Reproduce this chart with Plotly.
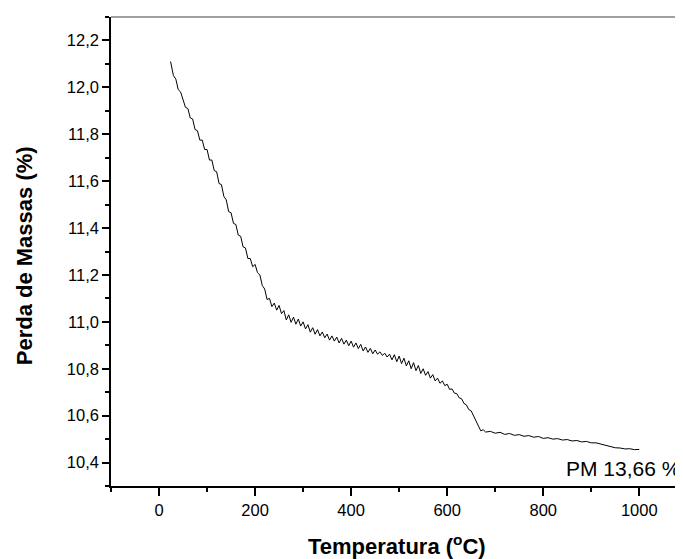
import plotly.graph_objects as go

# Temperatura (C) e perda de massa (%)
temp = [24, 26,
        30, 35, 40, 45, 50, 55, 60, 65, 70, 75, 80, 85, 90, 95, 100,
        105, 110, 115, 120, 125, 130, 135, 140, 145, 150, 155, 160, 165, 170, 175, 180,
        185, 190, 195, 200, 205, 210, 215, 220, 225, 230, 235, 240, 245, 250, 255, 260,
        265, 270, 275, 280, 285, 290, 295, 300, 305, 310, 315, 320, 325, 330, 335, 340,
        345, 350, 355, 360, 365, 370, 375, 380, 385, 390, 395, 400, 405, 410, 415, 420,
        425, 430, 435, 440, 445, 450, 455, 460, 465, 470, 475, 480, 485, 490, 495, 500,
        505, 510, 515, 520, 525, 530, 535, 540, 545, 550, 555, 560, 565, 570, 575, 580,
        585, 590, 595, 600, 605, 610, 615, 620, 625, 630, 635, 640, 645, 650, 655, 660,
        665, 670, 675, 680,
        690, 700, 710, 720, 730, 740, 750, 760, 770, 780, 790, 800, 810, 820, 830, 840,
        850, 860, 870, 880, 890, 900, 910, 920, 930, 940, 950, 960, 970, 980, 990, 1000]

massa = [12.11, 12.09,
         12.05, 12.035, 11.99, 11.98, 11.95, 11.915, 11.91, 11.87, 11.865, 11.82, 11.815, 11.775, 11.775, 11.735, 11.735,
         11.69, 11.69, 11.645, 11.64, 11.59, 11.585, 11.535, 11.52, 11.47, 11.465, 11.42, 11.415, 11.37, 11.365, 11.32, 11.315,
         11.27, 11.27, 11.235, 11.245, 11.21, 11.2, 11.155, 11.14, 11.095, 11.1, 11.065, 11.08, 11.05, 11.07, 11.035, 11.048,
         11.008, 11.03, 10.998, 11.02, 10.99, 11.012, 10.982, 11.0, 10.97, 10.988, 10.956, 10.975, 10.947, 10.967, 10.94, 10.957,
         10.932, 10.948, 10.922, 10.94, 10.918, 10.935, 10.91, 10.93, 10.905, 10.922, 10.898, 10.918, 10.892, 10.91, 10.886, 10.904,
         10.876, 10.893, 10.87, 10.887, 10.864, 10.88, 10.862, 10.872, 10.857, 10.866, 10.850, 10.862, 10.838, 10.86, 10.83, 10.854,
         10.822, 10.845, 10.812, 10.834, 10.8, 10.826, 10.792, 10.814, 10.78, 10.8, 10.772, 10.788, 10.76, 10.775, 10.748, 10.76,
         10.738, 10.748, 10.728, 10.734, 10.712, 10.714, 10.696, 10.694, 10.676, 10.672, 10.652, 10.646, 10.626, 10.62, 10.598, 10.58,
         10.552, 10.535, 10.54, 10.53,
         10.533, 10.525, 10.529, 10.52, 10.524, 10.516, 10.519, 10.512, 10.515, 10.508, 10.511, 10.503, 10.506, 10.500, 10.502, 10.496,
         10.498, 10.492, 10.494, 10.488, 10.49, 10.484, 10.484, 10.478, 10.475, 10.468, 10.463, 10.462, 10.458, 10.459, 10.455, 10.456]

xticks = [0, 200, 400, 600, 800, 1000]
yticks = [10.4, 10.6, 10.8, 11.0, 11.2, 11.4, 11.6, 11.8, 12.0, 12.2]

fonte = 'Liberation Sans, Arial, sans-serif'

fig = go.Figure()
fig.add_trace(go.Scatter(x=temp, y=massa, mode='lines',
                         line=dict(color='black', width=1), showlegend=False))

# a pagina tem 8px de margem no body, descontado aqui
fig.update_layout(width=675, height=551,
                  margin=dict(l=103, r=0, t=9, b=73),
                  plot_bgcolor='white', paper_bgcolor='white',
                  separators=',.',
                  font=dict(family=fonte, color='black'))

fig.update_xaxes(range=[-100, 1091], tickvals=xticks, ticks='outside', ticklen=8, tickwidth=1.5,
                 tickcolor='black', showline=True, linecolor='black', linewidth=1.5,
                 showgrid=False, zeroline=False, tickfont=dict(size=16.5), automargin=False,
                 minor=dict(ticks='outside', ticklen=4, tickwidth=1.5, tickcolor='black',
                            tick0=-100, dtick=200, showgrid=False))

fig.update_yaxes(range=[10.3, 12.3], tickvals=yticks, tickformat='.1f', ticks='outside', ticklen=7,
                 tickwidth=1.5, tickcolor='black', showline=True, linecolor='black', linewidth=1.5,
                 showgrid=False, zeroline=False, tickfont=dict(size=16.5), automargin=False,
                 minor=dict(ticks='outside', ticklen=4, tickwidth=1.5, tickcolor='black',
                            tick0=10.3, dtick=0.2, showgrid=False))

# linha superior do quadro
fig.add_shape(type='line', xref='paper', yref='paper', x0=0, x1=1, y0=1, y1=1,
              line=dict(color='#808080', width=1.5))

# titulos dos eixos
fig.add_annotation(text='<b>Temperatura (<sup>o</sup>C)</b>', xref='paper', x=0.5, xanchor='center',
                   yref='paper', y=-0.126, yanchor='middle', showarrow=False,
                   font=dict(size=22, family=fonte, color='black'))
fig.add_annotation(text='<b>Perda de Massas (%)</b>', xref='paper', x=-0.152, xanchor='center',
                   yref='paper', y=0.49, yanchor='middle', textangle=-90, showarrow=False,
                   font=dict(size=22, family=fonte, color='black'))

fig.add_annotation(text='PM 13,66 %', xref='paper', x=0.998, xanchor='right',
                   yref='y', y=10.376, yanchor='middle', showarrow=False,
                   font=dict(size=21, family=fonte, color='black'))

fig.write_html('out.html')
